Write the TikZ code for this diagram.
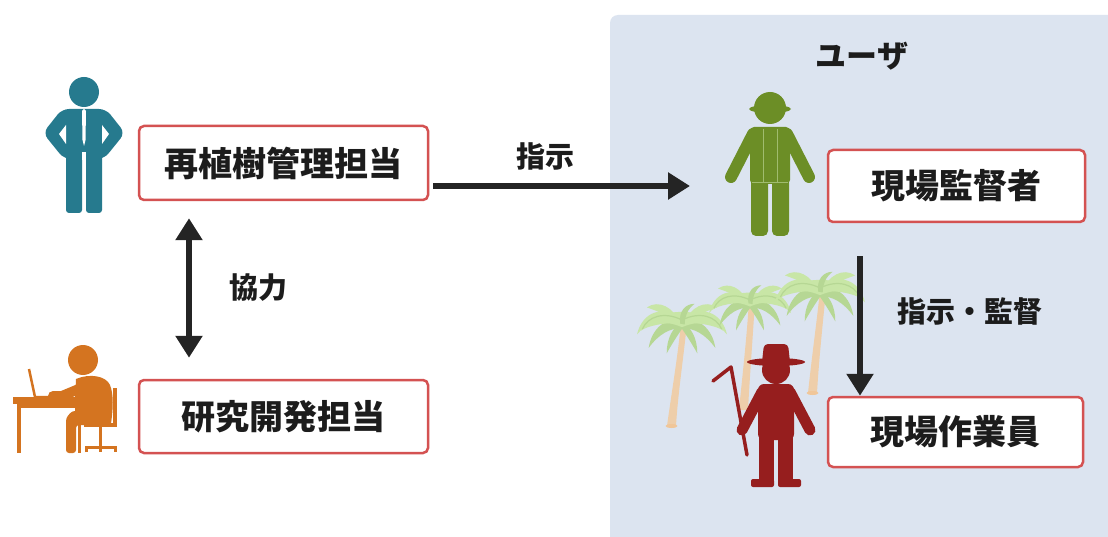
\documentclass[tikz,border=0pt]{standalone}
\usepackage{fontspec}
\newfontfamily\jp{Noto Sans CJK JP}
\usetikzlibrary{arrows.meta}

\definecolor{panelc}{RGB}{220,228,240}
\definecolor{boxred}{RGB}{212,82,82}
\definecolor{textc}{RGB}{28,28,28}
\definecolor{arrc}{RGB}{36,36,36}
\definecolor{tealc}{RGB}{38,122,142}
\definecolor{orangec}{RGB}{212,116,32}
\definecolor{greenc}{RGB}{108,142,38}
\definecolor{vestc}{RGB}{160,188,110}
\definecolor{redc}{RGB}{150,30,30}
\definecolor{leafA}{RGB}{200,230,166}
\definecolor{leafB}{RGB}{182,215,148}
\definecolor{trunkc}{RGB}{238,206,170}

\tikzset{
  rolebox/.style={draw=boxred, line width=2.5pt, fill=white, rounded corners=5pt,
    inner sep=0pt, text=textc, font=\jp\bfseries\fontsize{34}{40}\selectfont},
  lbl/.style={inner sep=0pt, text=textc, font=\jp\bfseries\fontsize{29}{34}\selectfont},
  tip/.tip={Triangle[length=22pt,width=26pt]},
  arr/.style={draw=arrc, line width=6pt, -tip},
  darr/.style={draw=arrc, line width=6pt, tip-tip},
  palmcrown/.pic={
    % lower, darker fronds
    \fill[leafB] (0,2) .. controls (-10,8) and (-17,20) .. (-17,37) .. controls (-9,23) and (-3,14) .. (2,7) -- cycle;
    \fill[leafB] (0,2) .. controls (10,8) and (17,20) .. (17,37) .. controls (9,23) and (3,14) .. (-2,7) -- cycle;
    \fill[leafB] (0,0) .. controls (-18,-4) and (-34,10) .. (-37,31) .. controls (-26,16) and (-14,9) .. (0,9) -- cycle;
    \fill[leafB] (0,0) .. controls (18,-4) and (34,10) .. (37,31) .. controls (26,16) and (14,9) .. (0,9) -- cycle;
    % canopy
    \fill[leafA] (-46,12) .. controls (-36,-16) and (36,-16) .. (46,12) .. controls (30,0) and (-30,0) .. cycle;
    % long side fronds
    \fill[leafA] (0,-2) .. controls (-22,-17) and (-44,-9) .. (-50,16) .. controls (-40,3) and (-20,-1) .. (0,8) -- cycle;
    \fill[leafA] (0,-2) .. controls (22,-17) and (44,-9) .. (50,16) .. controls (40,3) and (20,-1) .. (0,8) -- cycle;
    % upper fronds
    \fill[leafA] (-3,3) .. controls (-9,-14) and (-26,-23) .. (-39,-14) .. controls (-25,-9) and (-12,-4) .. (1,6) -- cycle;
    \fill[leafA] (3,3) .. controls (9,-14) and (26,-23) .. (39,-14) .. controls (25,-9) and (12,-4) .. (-1,6) -- cycle;
    \fill[leafB] (-2,4) .. controls (-4,-10) and (4,-18) .. (14,-18) .. controls (6,-12) and (3,-4) .. (3,5) -- cycle;
    \draw[leafB, line width=1.2pt] (0,0) .. controls (-20,-10) and (-38,-4) .. (-44,10)
                                   (0,0) .. controls (20,-10) and (38,-4) .. (44,10);
  }
}

\begin{document}
\begin{tikzpicture}[x=1pt, y=-1pt]
\useasboundingbox (0,0) rectangle (1108,537);
\fill[white] (0,0) rectangle (1108,537);

% user area
\fill[panelc] (610,537) [rounded corners=8pt] -- (610,15) [sharp corners] -- (1108,15) -- (1108,537) -- cycle;
\node[lbl, font=\jp\bfseries\fontsize{31}{36}\selectfont] (user) at (862,56) {ユーザ};

% palm trees
\fill[trunkc] (667,426) .. controls (672,390) and (678,355) .. (681,322) -- (687,322) .. controls (684,355) and (678,392) .. (676,426) -- cycle;
\fill[trunkc] (739,410) .. controls (743,370) and (747,335) .. (749,300) -- (755,300) .. controls (753,335) and (750,372) .. (748,410) -- cycle;
\fill[trunkc] (808,393) .. controls (812,355) and (817,320) .. (820,290) -- (826,290) .. controls (823,322) and (819,358) .. (817,393) -- cycle;
\fill[trunkc!90!orange] (671.5,426) ellipse[x radius=6, y radius=2];
\fill[trunkc!90!orange] (812.5,393) ellipse[x radius=6, y radius=2];
\pic[scale=0.9] at (682,320) {palmcrown};
\pic[scale=0.82] at (750,300) {palmcrown};
\pic[scale=0.9] at (820,288) {palmcrown};

% manager (teal)
\begin{scope}[fill=tealc]
  \fill (84,92) circle[radius=15];
  \fill[rounded corners=7pt] (62,109) -- (106,109) -- (125,133) -- (104,159) -- (64,159) -- (43,133) -- cycle;
  \fill[white] (59,134) -- (66,125) -- (66,144) -- cycle;
  \fill[white] (109,134) -- (102,125) -- (102,144) -- cycle;
  \fill[rounded corners=3pt] (66,152) rectangle (82,213);
  \fill[rounded corners=3pt] (86,152) rectangle (102,213);
  \fill[white] (82,152) rectangle (86,160);
  \fill[white] (82,111) -- (84,109) -- (86,111) -- (85.5,140) -- (84,146) -- (82.5,140) -- cycle;
\end{scope}

% researcher at desk (orange)
\begin{scope}[fill=orangec, draw=orangec]
  \fill (83,360) circle[radius=15];
  \fill (76,379) .. controls (90,373) and (106,376) .. (110,385) .. controls (114,395) and (113,410) .. (111,423) -- (75,423) -- (75,400) -- cycle;
  \draw[line width=10pt, line cap=round, line join=round] (86,386) -- (62,396) -- (53,396);
  \fill[rounded corners=3pt] (111,411) -- (111,425) -- (76,425) -- (76,453) -- (66,453) -- (66,418) -- (72,411) -- cycle;
  \draw[line width=2.5pt] (29,369) -- (35,397) -- (55,397);
  \fill (13,397) rectangle (83,404);
  \fill (17,404) rectangle (21,453);
  \fill (77.5,404) rectangle (81,453);
  \fill (21,404) rectangle (77,408);
  \fill (113,388) rectangle (117,427);
  \fill (84,423) rectangle (117,427);
  \fill (99,427) rectangle (102,446);
  \draw[line width=3pt] (86,452) -- (86,447) -- (115,447) -- (115,452) (100.5,447) -- (100.5,452);
\end{scope}

% site supervisor (green)
\begin{scope}[fill=greenc, draw=greenc]
  \fill (770,108) circle[radius=16];
  \fill (770,109) ellipse[x radius=21, y radius=4];
  \draw[line width=12pt, line cap=round] (753,134) -- (731,177);
  \draw[line width=12pt, line cap=round] (787,134) -- (809,177);
  \fill[rounded corners=4pt] (750,127) rectangle (790,184);
  \fill[rounded corners=5pt] (751,178) rectangle (768,236);
  \fill[rounded corners=5pt] (772,178) rectangle (789,236);
  \draw[vestc, line width=1pt] (763,129) -- (763,183) (777,129) -- (777,183) (752,183) -- (788,183);
\end{scope}

% field worker with hoe (red)
\begin{scope}[fill=redc, draw=redc]
  \draw[line width=3.5pt, line cap=round, line join=round] (713,381) -- (731,367) -- (747,455);
  \fill (776,370) circle[radius=14];
  \fill (776,362) ellipse[x radius=29, y radius=4];
  \fill[rounded corners=4pt] (762,362) -- (764,344) -- (788,344) -- (790,362) -- cycle;
  \draw[line width=11pt, line cap=round] (762,392) -- (742,430);
  \draw[line width=11pt, line cap=round] (790,392) -- (810,430);
  \fill[rounded corners=6pt] (758,384) rectangle (794,440);
  \fill (759,436) rectangle (774,482);
  \fill (778,436) rectangle (793,482);
  \fill[rounded corners=2pt] (751,479) rectangle (774,487);
  \fill[rounded corners=2pt] (778,479) rectangle (801,487);
\end{scope}

% role boxes
\node[rolebox, minimum width=289pt, minimum height=74pt] (mgr) at (283.5,163) {再植樹管理担当};
\node[rolebox, minimum width=289pt, minimum height=73pt] (rnd) at (283.5,416.5) {研究開発担当};
\node[rolebox, minimum width=257pt, minimum height=72pt] (sup) at (956.5,186) {現場監督者};
\node[rolebox, minimum width=255pt, minimum height=70pt] (wrk) at (955.5,432) {現場作業員};

% connectors
\coordinate (supin) at (690,186);
\draw[arr] ([yshift=-23pt]mgr.east) ++(4,0) -- (supin);
\node[lbl] (l1) at (545,156) {指示};

\draw[darr] ([xshift=-94.5pt,yshift=-17pt]mgr.south) -- ([xshift=-94.5pt,yshift=21pt]rnd.north);
\node[lbl] (l2) at (258,288) {協力};

\draw[arr] ([xshift=-96.5pt,yshift=-33pt]sup.south) -- ([xshift=-95.5pt]wrk.north);
\node[lbl] (l3) at (970,311) {指示・監督};
\end{tikzpicture}
\end{document}
